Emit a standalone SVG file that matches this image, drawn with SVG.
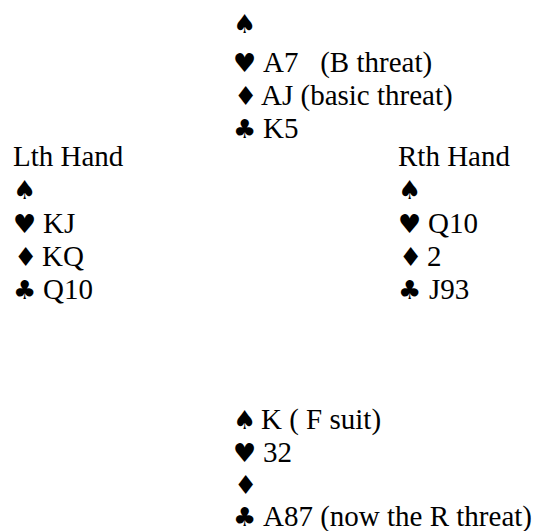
<svg xmlns="http://www.w3.org/2000/svg" width="541" height="531" viewBox="0 0 541 531">
<style>
text{font-family:"Liberation Serif","Times New Roman",serif;font-size:29px;fill:#000;white-space:pre}
.s{font-family:"DejaVu Sans",sans-serif;font-size:26px}
</style>
<rect width="541" height="531" fill="#fff"/>
<g id="north">
<text class="s" x="233" y="33">♠</text>
<text class="s" x="233" y="72">♥</text><text x="263" y="72" xml:space="preserve">A7   (B threat)</text>
<text class="s" x="234" y="105">♦</text><text x="261" y="105">AJ (basic threat)</text>
<text class="s" x="233" y="138">♣</text><text x="263" y="138">K5</text>
</g>
<g id="west">
<text x="13" y="166">Lth Hand</text>
<text class="s" x="13" y="199">♠</text>
<text class="s" x="13" y="233">♥</text><text x="43" y="233">KJ</text>
<text class="s" x="14" y="266">♦</text><text x="42" y="266">KQ</text>
<text class="s" x="13" y="299">♣</text><text x="43" y="299">Q10</text>
</g>
<g id="east">
<text x="398" y="166">Rth Hand</text>
<text class="s" x="398" y="199">♠</text>
<text class="s" x="398" y="233">♥</text><text x="428" y="233">Q10</text>
<text class="s" x="399" y="266">♦</text><text x="427" y="266">2</text>
<text class="s" x="398" y="299">♣</text><text x="429" y="299">J93</text>
</g>
<g id="south">
<text class="s" x="233" y="429">♠</text><text x="261" y="429">K ( F suit)</text>
<text class="s" x="233" y="462">♥</text><text x="263" y="462">32</text>
<text class="s" x="234" y="494">♦</text>
<text class="s" x="233" y="526">♣</text><text x="263" y="526">A87 (now the R threat)</text>
</g>
<g id="connectors"></g>
</svg>
